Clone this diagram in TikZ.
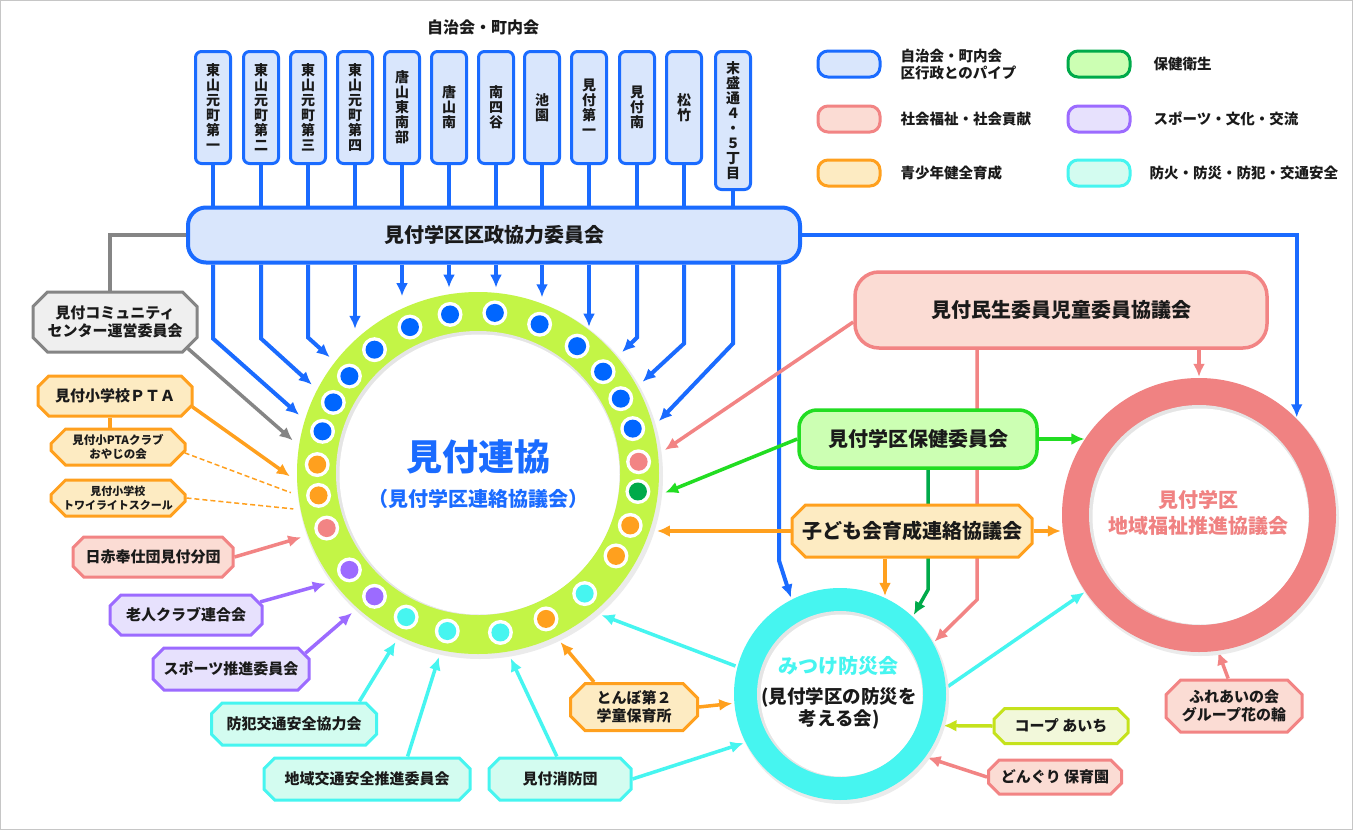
\documentclass[tikz,border=0pt]{standalone}
\usepackage{fontspec}
\setmainfont{Noto Sans CJK JP}
\usetikzlibrary{arrows.meta,shapes.misc,calc}
\pgfdeclarelayer{bg}
\pgfdeclarelayer{canvas}
\pgfsetlayers{canvas,bg,main}
\definecolor{cblue}{HTML}{1A6BFF}
\definecolor{fblue}{HTML}{D9E6FC}
\definecolor{cpink}{HTML}{F28484}
\definecolor{fpink}{HTML}{FBDCD4}
\definecolor{corange}{HTML}{FFA01E}
\definecolor{forange}{HTML}{FDEBC2}
\definecolor{cgreen}{HTML}{00AA4A}
\definecolor{fgreen}{HTML}{CCFFB3}
\definecolor{cbgreen}{HTML}{22DD22}
\definecolor{cpurple}{HTML}{9C6BFF}
\definecolor{fpurple}{HTML}{E7E1FD}
\definecolor{ccyan}{HTML}{46F5F0}
\definecolor{fcyan}{HTML}{D3FCF0}
\definecolor{cgray}{HTML}{858585}
\definecolor{fgray}{HTML}{EFEFEF}
\definecolor{clime}{HTML}{C5E21C}
\definecolor{flime}{HTML}{F2F8DA}
\definecolor{cring}{HTML}{C3F546}
\definecolor{cpring}{HTML}{F08282}
\definecolor{cdot}{HTML}{0066FF}
\definecolor{ctext}{HTML}{1A1A1A}
\begin{document}
\begin{tikzpicture}[x=1pt,y=-1pt,
  every node/.style={text=ctext},
  tbox/.style={draw=cblue, fill=fblue, line width=3pt, rounded corners=6pt, minimum width=35pt, minimum height=112pt, inner sep=3pt, align=center, anchor=north, font=\bfseries\fontsize{14}{15}\selectfont},
  oct/.style={chamfered rectangle, chamfered rectangle xsep=11pt, line width=3pt, align=center, inner sep=0pt, font=\bfseries\fontsize{15}{18}\selectfont},
  ogray/.style={oct, draw=cgray, fill=fgray},
  oorange/.style={oct, draw=corange, fill=forange},
  opink/.style={oct, draw=cpink, fill=fpink},
  opurple/.style={oct, draw=cpurple, fill=fpurple},
  ocyan/.style={oct, draw=ccyan, fill=fcyan},
  olime/.style={oct, draw=clime, fill=flime},
  rbox/.style={line width=3.5pt, align=center, font=\bfseries\fontsize{20}{24}\selectfont},
  lbox/.style={rounded corners=10pt, line width=3pt, minimum width=62pt, minimum height=26pt, inner sep=0pt},
  ltext/.style={anchor=west, align=left, font=\bfseries\fontsize{14.5}{17}\selectfont},
  arr/.style={-{Latex[length=13pt,width=12pt]}},
  bl/.style={draw=cblue, line width=4pt},
  gl/.style={draw=cgray, line width=3.5pt},
  ol/.style={draw=corange, line width=3.5pt},
  od/.style={draw=corange, line width=1.5pt, dash pattern=on 5pt off 3pt},
  pl/.style={draw=cpink, line width=3.5pt},
  pul/.style={draw=cpurple, line width=3.5pt},
  cl/.style={draw=ccyan, line width=3.5pt},
  grl/.style={draw=cbgreen, line width=3.5pt},
  dgl/.style={draw=cgreen, line width=3.5pt},
  ll/.style={draw=clime, line width=3.5pt}
]
\useasboundingbox (0,0) rectangle (1353,830);
\begin{pgfonlayer}{canvas}
\fill[white] (0,0) rectangle (1353,830);
\draw[gray!45, line width=1pt] (0.5,0.5) rectangle (1352.5,829.5);
\end{pgfonlayer}

% title
\node[font=\bfseries\fontsize{16}{18}\selectfont] (title) at (483,27) {自治会・町内会};

% top boxes
\node[tbox] (t1) at (213,50) {東\\山\\元\\町\\第\\一};
\node[tbox] (t2) at (261,50) {東\\山\\元\\町\\第\\二};
\node[tbox] (t3) at (308,50) {東\\山\\元\\町\\第\\三};
\node[tbox] (t4) at (355,50) {東\\山\\元\\町\\第\\四};
\node[tbox] (t5) at (402,50) {唐\\山\\東\\南\\部};
\node[tbox] (t6) at (449,50) {唐\\山\\南};
\node[tbox] (t7) at (496,50) {南\\四\\谷};
\node[tbox] (t8) at (542,50) {池\\園};
\node[tbox] (t9) at (589,50) {見\\付\\第\\一};
\node[tbox] (t10) at (637,50) {見\\付\\南};
\node[tbox] (t11) at (684,50) {松\\竹};
\node[tbox, minimum height=138pt] (t12) at (733,50) {末\\盛\\通\\４\\・\\５\\丁\\目};

% bar
\node[draw=cblue, fill=fblue, line width=4pt, rounded corners=18pt, minimum width=612pt, minimum height=55pt, font=\bfseries\fontsize{20}{24}\selectfont] (bar) at (494,235) {見付学区区政協力委員会};

% legend
\node[lbox, draw=cblue, fill=fblue] (lg1) at (849,64) {};
\node[ltext] (lt1) at (897,64) {自治会・町内会\\区行政とのパイプ};
\node[lbox, draw=cpink, fill=fpink] (lg2) at (849,119) {};
\node[ltext] (lt2) at (897,119) {社会福祉・社会貢献};
\node[lbox, draw=corange, fill=forange] (lg3) at (849,173) {};
\node[ltext] (lt3) at (897,173) {青少年健全育成};
\node[lbox, draw=cgreen, fill=fgreen] (lg4) at (1099,64) {};
\node[ltext] (lt4) at (1150,64) {保健衛生};
\node[lbox, draw=cpurple, fill=fpurple] (lg5) at (1099,119) {};
\node[ltext] (lt5) at (1150,119) {スポーツ・文化・交流};
\node[lbox, draw=ccyan, fill=fcyan] (lg6) at (1099,173) {};
\node[ltext] (lt6) at (1146,173) {防火・防災・防犯・交通安全};

% main ring
\node[circle, minimum size=376pt, inner sep=0pt] (main) at (478,473) {};
\fill[black!8] ([shift={(2,3)}]main.center) circle[radius=183pt];
\fill[cring] (main.center) circle[radius=181pt];
\fill[black!10] (main.center) circle[radius=142pt];
\fill[white] ([shift={(1.5,1.5)}]main.center) circle[radius=140pt];
\foreach \a/\c in {165/cdot,154/cdot,143/cdot,130/cdot,115/cdot,100/cdot,84/cdot,67.5/cdot,52/cdot,39/cdot,27.5/cdot,16/cdot,4/cpink,-6.6/cgreen,-19/corange,-31/corange,-48.5/ccyan,-65/corange,-82/ccyan,-101/ccyan,-116.5/ccyan,-130/cpurple,-143/cpurple,-160/cpink,-172/corange,177/corange}{
  \fill[white] (main.center) ++(-\a:161) circle[radius=12.5pt];
  \fill[\c] (main.center) ++(-\a:161) circle[radius=9pt];
}
\node[font=\bfseries\fontsize{36}{40}\selectfont, text=cblue] (mt1) at (478,457) {見付連協};
\node[font=\bfseries\fontsize{20}{24}\selectfont, text=cblue] (mt2) at (478,499) {（見付学区連絡協議会）};

% bosai ring
\node[circle, minimum size=216pt, inner sep=0pt] (bos) at (840,694) {};
\fill[black!8] ([shift={(2,3)}]bos.center) circle[radius=107pt];
\fill[ccyan] (bos.center) circle[radius=106pt];
\fill[black!10] (bos.center) circle[radius=83pt];
\fill[white] ([shift={(1.5,1.5)}]bos.center) circle[radius=81pt];
\node[font=\bfseries\fontsize{20}{24}\selectfont, text=ccyan] (bt1) at (838,666) {みつけ防災会};
\node[font=\bfseries\fontsize{18.5}{22}\selectfont, align=center] (bt2) at (839,708) {(見付学区の防災を\\考える会)};

% fukushi ring
\node[circle, minimum size=276pt, inner sep=0pt] (fuku) at (1199,515) {};
\fill[black!8] ([shift={(2,3)}]fuku.center) circle[radius=138pt];
\fill[cpring] (fuku.center) circle[radius=137pt];
\fill[black!10] (fuku.center) circle[radius=110pt];
\fill[white] ([shift={(1.5,1.5)}]fuku.center) circle[radius=108pt];
\node[font=\bfseries\fontsize{20}{26}\selectfont, text=cpring, align=center] (ft) at (1198,513) {見付学区\\地域福祉推進協議会};

% right boxes
\node[rbox, draw=cpink, fill=fpink, rounded corners=24pt, minimum width=412pt, minimum height=76pt] (min) at (1061,310) {見付民生委員児童委員協議会};
\node[rbox, draw=cbgreen, fill=fgreen, rounded corners=18pt, minimum width=238pt, minimum height=58pt] (hok) at (918,439) {見付学区保健委員会};
\node[oorange, minimum width=240pt, minimum height=52pt, font=\bfseries\fontsize{20}{24}\selectfont] (kod) at (912,531) {子ども会育成連絡協議会};

% left boxes
\node[ogray, minimum width=164pt, minimum height=60pt] (comm) at (115,322) {見付コミュニティ\\センター運営委員会};
\node[oorange, minimum width=154pt, minimum height=40pt] (pta) at (115,396) {見付小学校ＰＴＡ};
\node[oorange, minimum width=134pt, minimum height=36pt, font=\bfseries\fontsize{11.5}{14}\selectfont] (oyaji) at (118,447) {見付小PTAクラブ\\おやじの会};
\node[oorange, minimum width=134pt, minimum height=36pt, font=\bfseries\fontsize{11}{14}\selectfont] (twi) at (118,498) {見付小学校\\トワイライトスクール};
\node[opink, minimum width=160pt, minimum height=40pt] (nis) at (153,557) {日赤奉仕団見付分団};
\node[opurple, minimum width=152pt, minimum height=40pt] (roj) at (186,615) {老人クラブ連合会};
\node[opurple, minimum width=156pt, minimum height=42pt] (spo) at (231,669) {スポーツ推進委員会};
\node[ocyan, minimum width=165pt, minimum height=42pt] (bh) at (294,724) {防犯交通安全協力会};
\node[ocyan, minimum width=206pt, minimum height=42pt] (ck) at (367,779) {地域交通安全推進委員会};
\node[ocyan, minimum width=142pt, minimum height=42pt] (sb) at (560,779) {見付消防団};
\node[oorange, minimum width=127pt, minimum height=47pt] (tb) at (634,707) {とんぼ第２\\学童保育所};
\node[olime, minimum width=134pt, minimum height=35pt] (coop) at (1061,726) {コープ あいち};
\node[opink, minimum width=133pt, minimum height=34pt] (don) at (1055,777) {どんぐり 保育園};
\node[opink, minimum width=136pt, minimum height=52pt] (fure) at (1234,706) {ふれあいの会\\グループ花の輪};

\begin{pgfonlayer}{bg}
\foreach \i in {1,...,12}{\draw[bl] (t\i.south) -- (t\i.south |- bar.north);}
\draw[bl,arr] (t1 |- bar.south) -- ++(0,74) -- (main.162);
\draw[bl,arr] (t2 |- bar.south) -- ++(0,74) -- (main.152);
\draw[bl,arr] (t3 |- bar.south) -- ++(0,73) -- (main.142);
\draw[bl,arr] (t4 |- bar.south) -- (t4 |- main.130);
\draw[bl,arr] (t5 |- bar.south) -- (t5 |- main.110);
\draw[bl,arr] (t6 |- bar.south) -- (t6 |- main.100);
\draw[bl,arr] (t7 |- bar.south) -- (t7 |- main.80);
\draw[bl,arr] (t8 |- bar.south) -- (t8 |- main.69);
\draw[bl,arr] (t9 |- bar.south) -- (t9 |- main.51);
\draw[bl,arr] (t10 |- bar.south) -- ++(0,73) -- (main.40);
\draw[bl,arr] (t11 |- bar.south) -- ++(0,79) -- (main.29);
\draw[bl,arr] (t12 |- bar.south) -- ++(0,79) -- (main.16);
\draw[bl,arr] ([xshift=-23pt]bar.south east) -- ++(0,296) -- (bos.117);
\draw[bl,arr] (bar.east) -| (fuku.45);
\draw[gl] (bar.west) -| ([xshift=-5pt]comm.north);
\draw[gl,arr] (comm.-20) -- (main.170);
\draw[ol,arr] (pta.-8) -- (main.181);
\draw[ol] ([xshift=-5pt]pta.south) -- ([xshift=-5pt]pta.south |- oyaji.north);
\draw[od] (oyaji.-5) -- (main.186);
\draw[od] (twi.east) -- (main.191);
\draw[pl,arr] (nis.east) -- (main.200);
\draw[pul,arr] (roj.10) -- (main.216);
\draw[pul,arr] (spo.12) -- (main.228);
\draw[cl,arr] (bh.19) -- (main.244);
\draw[cl,arr] (ck.29) -- (main.258);
\draw[cl,arr] (sb.98) -- (main.280);
\draw[cl,arr] (sb.east) -- (bos.207);
\draw[ol,arr] (tb.148) -- (main.296);
\draw[ol,arr] (tb.east) -- (bos.185);
\draw[cl,arr] (bos.165) -- (main.311);
\draw[cl,arr] (bos.4) -- (fuku.214);
\draw[ll,arr] (coop.west) -- (bos.-17);
\draw[pl,arr] (don.west) -- (bos.-36);
\draw[pl,arr] (fure.102) -- (fuku.-82);
\draw[pl,arr] ([yshift=-12pt]min.west) -- (main.7);
\draw[pl,arr] ([xshift=-84pt]min.south) -- ++(0,250) -- (bos.29);
\draw[pl,arr] (min.south -| fuku.north) -- (fuku.north);
\draw[grl,arr] (hok.west) -- (main.-6);
\draw[grl,arr] (hok.east) -- (hok.east -| fuku.146);
\draw[dgl,arr] ([xshift=10pt]hok.south) -- ++(0,120) -- (bos.47);
\draw[ol,arr] (kod.west) -- (kod.west -| main.-18);
\draw[ol,arr] (kod.east) -- (kod.east -| fuku.west);
\draw[ol,arr] ([xshift=-27pt]kod.south) -- ([xshift=-27pt]kod.south |- bos.65);
\end{pgfonlayer}
\end{tikzpicture}
\end{document}
